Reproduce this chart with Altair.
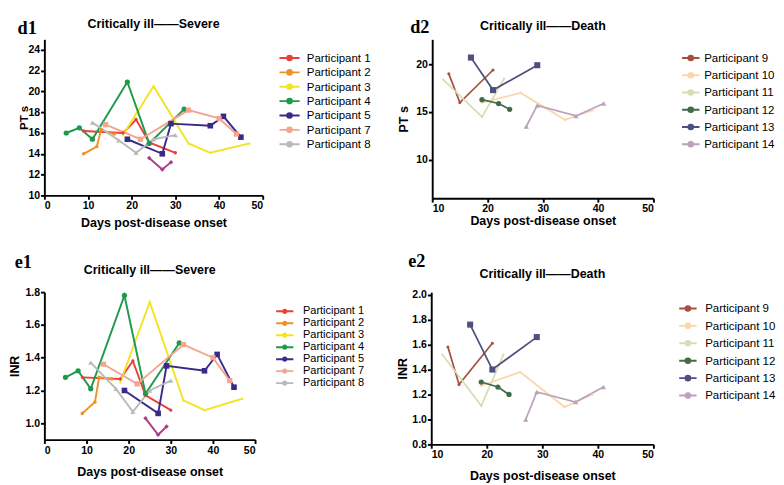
import altair as alt
import pandas as pd

# ---------------- data: critically ill -> severe (panels d1, e1) ----------------
severe_names = ["Participant 1", "Participant 2", "Participant 3", "Participant 4",
                "Participant 5", "Participant 6", "Participant 7", "Participant 8"]
severe_legend = ["Participant 1", "Participant 2", "Participant 3", "Participant 4",
                 "Participant 5", "Participant 7", "Participant 8"]

p1_days = [9, 18, 21, 24, 30]
p1_pt = [16.2, 16.0, 17.3, 15.1, 14.1]
p1_inr = [1.28, 1.27, 1.38, 1.17, 1.08]

p2_days = [9, 12, 13, 16]
p2_pt = [14.0, 14.7, 16.3, 15.9]
p2_inr = [1.06, 1.13, 1.28, 1.27]

p3_days = [18, 25, 33, 38, 47]
p3_pt = [15.8, 20.5, 15.0, 14.1, 15.0]
p3_inr = [1.25, 1.74, 1.14, 1.08, 1.15]

p4_days = [5, 8, 11, 19, 24, 32]
p4_pt = [16.0, 16.5, 15.4, 20.9, 15.0, 18.3]
p4_inr = [1.28, 1.32, 1.21, 1.78, 1.18, 1.49]

p5_days = [19, 27, 29, 38, 41, 45]
p5_pt = [15.4, 14.0, 16.9, 16.7, 17.6, 15.6]
p5_inr = [1.20, 1.06, 1.35, 1.32, 1.42, 1.22]

p6_days = [24, 27, 29]
p6_pt = [13.6, 12.5, 13.2]
p6_inr = [1.03, 0.93, 0.98]

p7_days = [14, 22, 33, 40, 44]
p7_pt = [16.8, 15.4, 18.2, 17.4, 15.9]
p7_inr = [1.36, 1.24, 1.48, 1.40, 1.26]

p8_days = [11, 17, 21, 25, 30]
p8_pt = [17.0, 15.3, 14.1, 15.4, 15.8]
p8_inr = [1.37, 1.21, 1.07, 1.20, 1.26]

# ---------------- data: critically ill -> death (panels d2, e2) ----------------
death_names = ["Participant 9", "Participant 10", "Participant 11",
               "Participant 12", "Participant 13", "Participant 14"]

p9_days = [13, 15, 21]
p9_pt = [19.0, 16.0, 19.4]
p9_inr = [1.58, 1.28, 1.61]

p10_days = [19, 26, 34, 39]
p10_pt = [16.0, 17.0, 14.2, 15.2]
p10_inr = [1.27, 1.38, 1.10, 1.20]

p11_days = [12, 19, 23]
p11_pt = [18.4, 14.5, 18.5]
p11_inr = [1.52, 1.11, 1.52]

p12_days = [19, 22, 24]
p12_pt = [16.3, 15.9, 15.3]
p12_inr = [1.30, 1.26, 1.20]

p13_days = [17, 21, 29]
p13_pt = [20.7, 17.3, 19.9]
p13_inr = [1.76, 1.40, 1.66]

p14_days = [27, 29, 36, 41]
p14_pt = [13.5, 15.7, 14.6, 15.9]
p14_inr = [1.00, 1.22, 1.14, 1.26]

# ---------------- styles ----------------
severe_colors = ["#e8403a", "#f0902a", "#f2e421", "#1e9a4a", "#3a2a88", "#b03a8a", "#f3a58e", "#b9b9b9"]
severe_shapes = ["circle", "circle", "triangle-up", "circle", "square", "diamond", "square", "triangle-up"]
severe_sizes = [12, 14, 8, 30, 34, 22, 30, 28]

death_colors = ["#a5503e", "#fcd5ab", "#d9dcb4", "#446a4a", "#4f4f80", "#baa2ba"]
death_shapes = ["circle", "circle", "circle", "circle", "square", "triangle-up"]
death_sizes = [10, 8, 6, 30, 40, 30]

FONT = "Liberation Sans, Arial, sans-serif"
SERIF = "Liberation Serif, Times New Roman, serif"


def leg_path(half):
    return ("M-%s,0L%s,0M-0.35,0a0.35,0.35 0 1,0 0.7,0a0.35,0.35 0 1,0 -0.7,0" % (half, half))


def frame(names, days_lists, val_lists):
    rows = []
    for n, ds, vs in zip(names, days_lists, val_lists):
        for d, v in zip(ds, vs):
            rows.append({"participant": n, "day": d, "value": v})
    return pd.DataFrame(rows)


sev_days = [p1_days, p2_days, p3_days, p4_days, p5_days, p6_days, p7_days, p8_days]
dth_days = [p9_days, p10_days, p11_days, p12_days, p13_days, p14_days]

df_d1 = frame(severe_names, sev_days, [p1_pt, p2_pt, p3_pt, p4_pt, p5_pt, p6_pt, p7_pt, p8_pt])
df_e1 = frame(severe_names, sev_days, [p1_inr, p2_inr, p3_inr, p4_inr, p5_inr, p6_inr, p7_inr, p8_inr])
df_d2 = frame(death_names, dth_days, [p9_pt, p10_pt, p11_pt, p12_pt, p13_pt, p14_pt])
df_e2 = frame(death_names, dth_days, [p9_inr, p10_inr, p11_inr, p12_inr, p13_inr, p14_inr])


def panel(df, names, legend_names, colors, shapes, sizes, xdom, xvals, ydom, yvals, yfmt,
          ytitle, w, h, tag, tag_x, tag_y, title, title_y, leg_x, leg_y, leg_size, leg_row,
          leg_font, leg_off, leg_half, stroke_w, ytpad, xtpad, ytfont, text_base):
    x = alt.X("day:Q", scale=alt.Scale(domain=xdom, nice=False, zero=False),
              axis=alt.Axis(values=xvals, title="Days post-disease onset", format="d",
                            titlePadding=xtpad, labelOverlap=False))
    y = alt.Y("value:Q", scale=alt.Scale(domain=ydom, nice=False, zero=False),
              axis=alt.Axis(values=yvals, title=ytitle, format=yfmt, titlePadding=ytpad,
                            labelOverlap=False, titleFontSize=ytfont))
    cscale = alt.Scale(domain=names, range=colors)
    lines = alt.Chart(df).mark_line(strokeWidth=stroke_w).encode(
        x=x, y=y,
        color=alt.Color("participant:N", scale=cscale,
                        legend=alt.Legend(orient="none", legendX=leg_x, legendY=leg_y,
                                          title=None, values=legend_names,
                                          symbolType=leg_path(leg_half), symbolSize=leg_size,
                                          symbolStrokeWidth=2, labelFontSize=leg_font,
                                          labelFont=FONT, labelColor="black",
                                          labelOffset=leg_off, rowPadding=leg_row,
                                          padding=0)),
    )
    layers = [lines]
    for n, s, z in zip(names, shapes, sizes):
        layers.append(
            alt.Chart(df).transform_filter(alt.datum.participant == n)
            .mark_point(filled=True, opacity=1, shape=s, size=z)
            .encode(x=x, y=y, color=alt.Color("participant:N", scale=cscale, legend=None))
        )
    layers.append(alt.Chart(pd.DataFrame({"t": [tag]})).mark_text(
        font=SERIF, fontSize=19, fontWeight="bold", align="left", baseline=text_base,
        color="black").encode(text="t:N", x=alt.value(tag_x), y=alt.value(tag_y)))
    layers.append(alt.Chart(pd.DataFrame({"t": [title]})).mark_text(
        font=FONT, fontSize=13, fontWeight="bold", align="center", baseline=text_base,
        color="black").encode(text="t:N", x=alt.value(w / 2), y=alt.value(title_y)))
    return alt.layer(*layers).properties(width=w, height=h)


d1 = panel(df_d1, severe_names, severe_legend, severe_colors, severe_shapes, severe_sizes,
           [0, 50], [0, 10, 20, 30, 40, 50], [10, 25], [10, 12, 14, 16, 18, 20, 22, 24], "d",
           "PT s", 228, 163, "d1", -28, -21, "Critically ill——Severe", -22,
           248, 11.5, 196, 0, 12, 10, 1.5, 2, -3, 6, 12, "top")
d2 = panel(df_d2, death_names, death_names, death_colors, death_shapes, death_sizes,
           [10, 50], [10, 20, 30, 40, 50], [6, 22.6], [10, 15, 20], "d",
           "PT s", 231, 166, "d2", -23, -22, "Critically ill——Death", -20,
           262, 11.5, 196, 3, 12, 6, 1.3, 1.8, 6, 1, 13, "top")
e1 = panel(df_e1, severe_names, severe_legend, severe_colors, severe_shapes, severe_sizes,
           [0, 50], [0, 10, 20, 30, 40, 50], [0.9, 1.8], [1.0, 1.2, 1.4, 1.6, 1.8], ".1f",
           "INR", 220, 154, "e1", -31, -31, "Critically ill——Severe", -23,
           245, 14, 100, 0.5, 11.5, 13, 1.8, 2, 4, 12, 13, "middle")
e2 = panel(df_e2, death_names, death_names, death_colors, death_shapes, death_sizes,
           [10, 50], [10, 20, 30, 40, 50], [0.8, 2.02], [0.8, 1.0, 1.2, 1.4, 1.6, 1.8, 2.0], ".1f",
           "INR", 232, 159, "e2", -24, -32, "Critically ill——Death", -19,
           260, 9, 196, 3.2, 12, 10, 1.3, 1.8, 3, 11, 13, "middle")

top = alt.hconcat(d1, d2, spacing=27).resolve_scale(color="independent", x="independent", y="independent")
bottom = alt.hconcat(e1, e2, spacing=33).resolve_scale(color="independent", x="independent", y="independent")

chart = (
    alt.vconcat(top, bottom, spacing=25)
    .resolve_scale(color="independent", x="independent", y="independent")
    .properties(padding=0)
    .configure(padding=0)
    .configure_axis(domainColor="black", domainWidth=2, tickColor="black", tickWidth=2,
                    tickSize=4, labelFont=FONT, labelFontSize=11, labelFontWeight="bold",
                    labelColor="black", labelPadding=1, titleFont=FONT, titleFontSize=13,
                    titleFontWeight="bold", titleColor="black", grid=False)
    .configure_view(strokeWidth=0)
)

chart.save("out.html", embed_options={"renderer": "svg", "actions": False})
